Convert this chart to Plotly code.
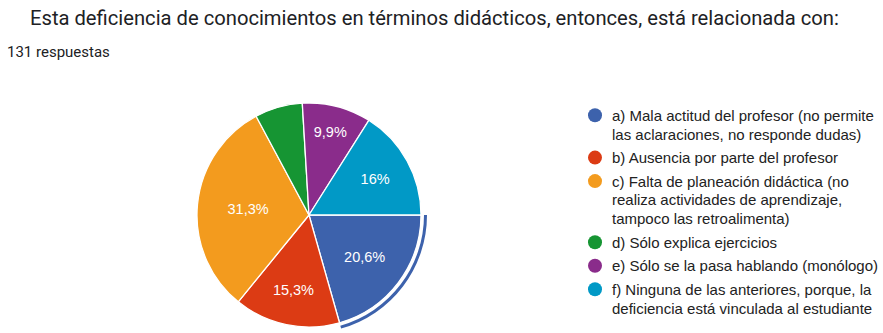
import plotly.graph_objects as go

# Survey responses (131 total)
labels = [
    "a) Mala actitud del profesor (no permite\nlas aclaraciones, no responde dudas)",
    "b) Ausencia por parte del profesor",
    "c) Falta de planeación didáctica (no\nrealiza actividades de aprendizaje,\ntampoco las retroalimenta)",
    "d) Sólo explica ejercicios",
    "e) Sólo se la pasa hablando (monólogo)",
    "f) Ninguna de las anteriores, porque, la\ndeficiencia está vinculada al estudiante",
]
counts = [27, 20, 41, 9, 13, 21]
colors = ["#3d62ac", "#dc3b14", "#f39b1e", "#169533", "#8a2c8b", "#0199c6"]

title_text = "Esta deficiencia de conocimientos en términos didácticos, entonces, está relacionada con:"
subtitle_text = "131 respuestas"

W, H = 883, 333
total = sum(counts)


def pct_label(v):
    p = round(v / total * 100, 1)
    s = f"{p:.1f}".rstrip("0").rstrip(".")
    return s.replace(".", ",") + "%"


# small slices get no inside label
slice_text = [pct_label(v) if v / total >= 0.08 else "" for v in counts]


def px_domain(cx, cy, r):
    clamp = lambda v: min(1.0, max(0.0, v))
    return dict(x=[clamp((cx - r) / W), clamp((cx + r) / W)],
                y=[clamp(1 - (cy + r) / H), clamp(1 - (cy - r) / H)])


cx, cy, r = 309, 215, 112

fig = go.Figure()

# highlight ring around the selected slice
ring_r = 118
fig.add_trace(go.Pie(
    values=counts,
    labels=[l.split("\n")[0] for l in labels],
    sort=False, direction="clockwise", rotation=90,
    marker=dict(colors=[colors[0]] + ["rgba(0,0,0,0)"] * (len(counts) - 1),
                line=dict(width=0)),
    hole=(ring_r - 3) / ring_r,
    textinfo="none", hoverinfo="skip", showlegend=False,
    domain=px_domain(cx, cy, ring_r),
))

fig.add_trace(go.Pie(
    values=counts,
    labels=[l.split("\n")[0] for l in labels],
    sort=False, direction="clockwise", rotation=90,
    marker=dict(colors=colors, line=dict(color="white", width=1.3)),
    text=slice_text, textinfo="text", textposition="inside",
    insidetextorientation="horizontal",
    textfont=dict(family="Arial, Liberation Sans", size=14.5, color="white"),
    showlegend=False,
    domain=px_domain(cx, cy, r),
))

annotations = [
    dict(text=title_text, x=28 / W, y=1 - 18 / H, xref="paper", yref="paper",
         xanchor="left", yanchor="middle", showarrow=False,
         font=dict(family="Roboto", size=20.2, color="#202124")),
    dict(text=subtitle_text, x=5 / W, y=1 - 52 / H, xref="paper", yref="paper",
         xanchor="left", yanchor="middle", showarrow=False,
         font=dict(family="Roboto", size=15, color="#202124")),
]
shapes = []

# legend: colored dot + wrapped label lines
y = 115.3
line_h, gap = 18.8, 4.7
for lab, col in zip(labels, colors):
    shapes.append(dict(type="circle", xref="paper", yref="paper",
                       x0=588 / W, x1=602 / W,
                       y0=1 - (y + 7) / H, y1=1 - (y - 7) / H,
                       fillcolor=col, line=dict(width=0)))
    for line in lab.split("\n"):
        annotations.append(dict(text=line, x=610 / W, y=1 - y / H,
                                xref="paper", yref="paper",
                                xanchor="left", yanchor="middle",
                                showarrow=False,
                                font=dict(family="Arial, Liberation Sans",
                                          size=15, color="#222222")))
        y += line_h
    y += gap

fig.update_layout(
    width=W, height=H,
    margin=dict(l=0, r=0, t=0, b=0),
    paper_bgcolor="white", plot_bgcolor="white",
    separators=",.",
    annotations=annotations, shapes=shapes,
)

fig.write_html("out.html")
